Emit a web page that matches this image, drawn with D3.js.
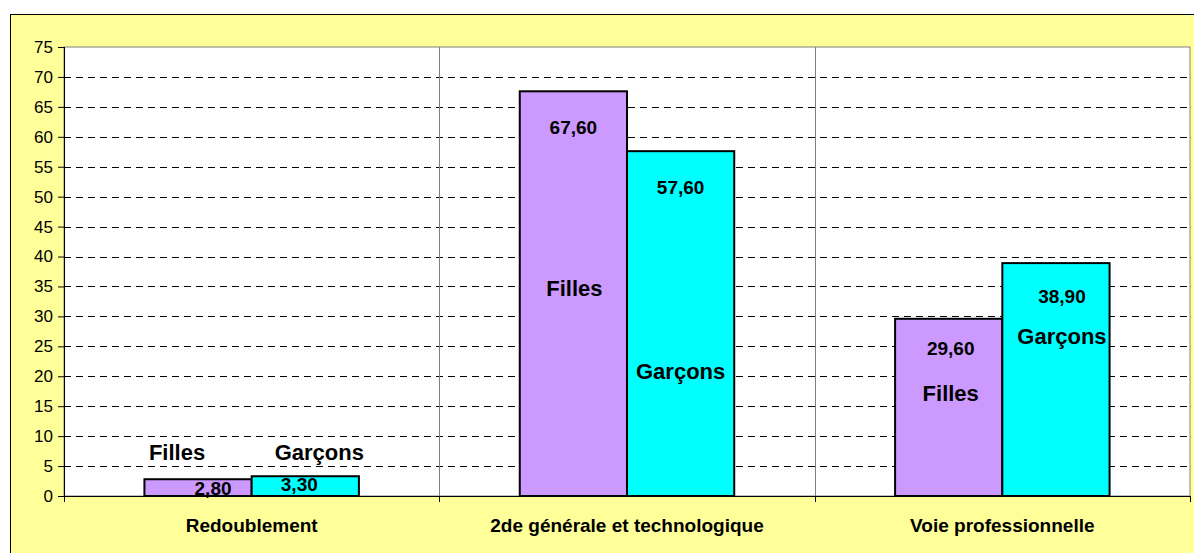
<!DOCTYPE html>
<html>
<head>
<meta charset="utf-8">
<script src="https://cdn.jsdelivr.net/npm/d3@7"></script>
<style>
  html, body { margin: 0; padding: 0; background: #fff; }
  svg { display: block; font-family: "Liberation Sans", Arial, sans-serif; }
</style>
</head>
<body>
<div id="chart"></div>
<script>
// chart data
var categories = ["Redoublement", "2de générale et technologique", "Voie professionnelle"];
var seriesNames = ["Filles", "Garçons"];
var filles = [2.8, 67.6, 29.6];
var garcons = [3.3, 57.6, 38.9];
var yTicks = [0, 5, 10, 15, 20, 25, 30, 35, 40, 45, 50, 55, 60, 65, 70, 75];

// label nudges (pixels) relative to bar centre / bar top, per category
var valueNudge = [
  [{dx: 15, dy: 0, base: true}, {dx: -6, dy: -4, base: true}],
  [{dx: 0, dy: 36}, {dx: 0, dy: 36}],
  [{dx: 2, dy: 30}, {dx: 6, dy: 33}]
];
// series name label positions: dx from bar centre, y in data units
var nameLabelPos = [
  [{dx: -21, v: 7.3}, {dx: 14, v: 7.3}],
  [{dx: 1, v: 34.7}, {dx: 0, v: 20.9}],
  [{dx: 2, v: 17.2}, {dx: 6, v: 26.6}]
];

(function() {
  var W = 1194, H = 553;
  var margin = {left: 64, right: 4, top: 47, bottom: 57};
  var width = 1190 - margin.left, height = 496 - margin.top;

  var svg = d3.select("#chart").append("svg")
      .attr("width", W).attr("height", H);

  // outer chart area
  svg.append("rect")
      .attr("x", 10.5).attr("y", 14.5)
      .attr("width", W + 10).attr("height", H + 10)
      .attr("fill", "#FFFF99").attr("stroke", "#000").attr("stroke-width", 1);

  var g = svg.append("g")
      .attr("transform", "translate(" + margin.left + "," + margin.top + ")");

  var x = d3.scaleBand().domain(categories).range([0, width]);
  var xs = d3.scaleBand().domain(seriesNames).range([0, x.bandwidth()]).paddingOuter(0.75).paddingInner(0);
  var y = d3.scaleLinear().domain([0, 75]).range([height, 0]);

  // plot area
  g.append("rect")
      .attr("width", width).attr("height", height)
      .attr("fill", "#fff").attr("stroke", "#808080").attr("stroke-width", 1);

  // dashed gridlines
  g.selectAll("line.grid")
      .data(yTicks.filter(function(d) { return d > 0 && d < 75; }))
      .enter().append("line")
      .attr("class", "grid")
      .attr("x1", 0).attr("x2", width)
      .attr("y1", function(d) { return Math.round(y(d)) + 0.5; })
      .attr("y2", function(d) { return Math.round(y(d)) + 0.5; })
      .attr("stroke", "#000").attr("stroke-dasharray", "7,5");

  // category separators
  g.selectAll("line.sep")
      .data(categories.slice(1))
      .enter().append("line")
      .attr("class", "sep")
      .attr("x1", function(d) { return Math.round(x(d)) + 0.5; })
      .attr("x2", function(d) { return Math.round(x(d)) + 0.5; })
      .attr("y1", 0).attr("y2", height)
      .attr("stroke", "#808080");

  var colors = {"Filles": "#CC99FF", "Garçons": "#00FFFF"};
  var values = {"Filles": filles, "Garçons": garcons};

  // bars
  seriesNames.forEach(function(s) {
    g.selectAll("rect.bar-" + s)
      .data(values[s])
      .enter().append("rect")
      .attr("x", function(d, i) { return x(categories[i]) + xs(s); })
      .attr("y", function(d) { return y(d); })
      .attr("width", xs.bandwidth())
      .attr("height", function(d) { return height - y(d); })
      .attr("fill", colors[s])
      .attr("stroke", "#000").attr("stroke-width", 2);
  });

  // value labels
  seriesNames.forEach(function(s, si) {
    g.selectAll("text.val-" + si)
      .data(values[s])
      .enter().append("text")
      .attr("x", function(d, i) { return x(categories[i]) + xs(s) + xs.bandwidth() / 2 + valueNudge[i][si].dx; })
      .attr("y", function(d, i) {
        var n = valueNudge[i][si];
        return n.base ? height - 8 + n.dy : y(d) + n.dy;
      })
      .attr("dy", "0.35em")
      .attr("text-anchor", "middle")
      .attr("font-size", "19px").attr("font-weight", "bold")
      .text(function(d) { return d3.format(".2f")(d).replace(".", ","); });
  });

  // series name labels
  seriesNames.forEach(function(s, si) {
    g.selectAll("text.name-" + si)
      .data(categories)
      .enter().append("text")
      .attr("x", function(c, i) { return x(c) + xs(s) + xs.bandwidth() / 2 + nameLabelPos[i][si].dx; })
      .attr("y", function(c, i) { return y(nameLabelPos[i][si].v); })
      .attr("dy", "0.35em")
      .attr("text-anchor", "middle")
      .attr("font-size", "22px").attr("font-weight", "bold")
      .text(s);
  });

  // y axis
  var yAxis = g.append("g")
      .call(d3.axisLeft(y).tickValues(yTicks).tickSize(6).tickPadding(5));
  yAxis.select(".domain").attr("stroke", "#000").attr("d", "M0.5,0V" + height);
  yAxis.selectAll(".tick line").attr("stroke", "#000");
  yAxis.selectAll(".tick text")
      .attr("font-family", "Liberation Sans, Arial, sans-serif")
      .attr("font-size", "17px").attr("fill", "#000");

  // x axis
  var xAxisG = g.append("g").attr("transform", "translate(0," + height + ")");
  xAxisG.append("line")
      .attr("x1", 0).attr("x2", width).attr("y1", 0.5).attr("y2", 0.5)
      .attr("stroke", "#000");
  xAxisG.selectAll("line.xtick")
      .data(categories.concat(["end"]))
      .enter().append("line")
      .attr("x1", function(d, i) { return Math.round(i < categories.length ? x(d) : width) + 0.5; })
      .attr("x2", function(d, i) { return Math.round(i < categories.length ? x(d) : width) + 0.5; })
      .attr("y1", 0).attr("y2", 6)
      .attr("stroke", "#000");
  xAxisG.selectAll("text.cat")
      .data(categories)
      .enter().append("text")
      .attr("x", function(d) { return x(d) + x.bandwidth() / 2; })
      .attr("y", 29)
      .attr("dy", "0.35em")
      .attr("text-anchor", "middle")
      .attr("font-size", "19px").attr("font-weight", "bold")
      .text(function(d) { return d; });
})();
</script>
</body>
</html>
